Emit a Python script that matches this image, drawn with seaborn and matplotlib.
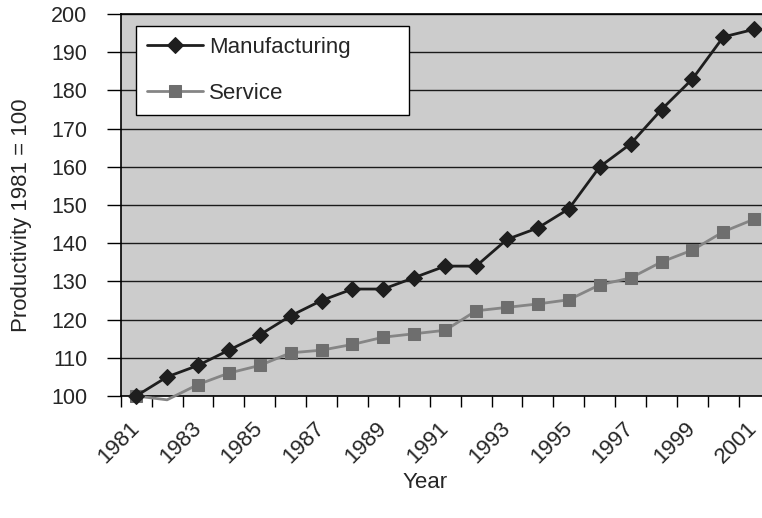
import matplotlib
matplotlib.use("Agg")
import matplotlib.pyplot as plt
import seaborn as sns
import numpy as np

# data (index 1981 = 100)
years = list(range(1981, 2002))
manufacturing = [100, 105, 108, 112, 116, 121, 125, 128, 128, 131, 134,
                 134, 141, 144, 149, 160, 166, 175, 183, 194, 196]
service = [100, 99, 103, 106, 108, 111.3, 112, 113.5, 115.4, 116.3, 117.2,
           122.3, 123.2, 124.1, 125.2, 129.1, 130.9, 135.1, 138.2, 143, 146.3]
tick_years = years[::2]

sns.set_style("white", {"axes.facecolor": "#cccccc", "axes.edgecolor": "black"})
plt.rcParams["font.family"] = ["Liberation Sans", "DejaVu Sans"]

fig = plt.figure(figsize=(7.62, 5.18), dpi=100)
ax = fig.add_axes([120.7 / 762, 122 / 518, 649 / 762, 382 / 518])

# categories sit between tick marks, like an excel category axis
pos = np.arange(len(years))
ymin = 100

sns.lineplot(x=pos, y=manufacturing, ax=ax, color="#1e1e1e", lw=2,
             marker="D", markersize=8, markeredgecolor="#1e1e1e",
             label="Manufacturing", clip_on=False, zorder=4)
sns.lineplot(x=pos, y=service, ax=ax, color="#858585", lw=2,
             marker="s", markersize=9, markerfacecolor="#6e6e6e",
             markeredgecolor="#6e6e6e", label="Service", clip_on=False,
             markevery=[v >= ymin for v in service], zorder=3)

ax.set_xlim(-0.5, len(years) - 0.5)
ax.set_ylim(ymin, 200)
ax.set_yticks(range(100, 201, 10))
ax.yaxis.grid(True, color="#1a1a1a", lw=1)
ax.set_axisbelow(True)

ax.set_xticks(np.arange(-0.5, len(years) - 0.5, 1))
ax.set_xticklabels([])
ax.set_xticks(pos[::2], minor=True)
ax.set_xticklabels([str(y) for y in tick_years], minor=True,
                   rotation=45, ha="right", va="center", rotation_mode="anchor")
ax.tick_params(axis="x", which="major", length=8, width=1, color="black",
               direction="out", bottom=True)
ax.tick_params(axis="x", which="minor", length=0, pad=21, labelsize=16)
ax.tick_params(axis="y", length=10, width=1, color="black", direction="out",
               left=True, pad=14, labelsize=15.5)

for side in ["left", "top", "bottom", "right"]:
    ax.spines[side].set_linewidth(1.2)

ax.set_xlabel("Year", fontsize=16)
ax.set_ylabel("Productivity 1981 = 100", fontsize=16)
ax.xaxis.set_label_coords(0.469, -0.2)
ax.yaxis.set_label_coords(-0.137, 0.474)

# excel-style wide legend box
leg = ax.legend(loc="upper left", bbox_to_anchor=(0.0236, 0.9686, 0.4206, 0),
                mode="expand", borderaxespad=0, fontsize=16, frameon=True,
                fancybox=False, edgecolor="black", facecolor="white",
                framealpha=1, handlelength=2.5, handletextpad=0.3,
                labelspacing=1.1, borderpad=0.5)
leg.get_frame().set_linewidth(1)

fig.savefig("out.png", dpi=100)
